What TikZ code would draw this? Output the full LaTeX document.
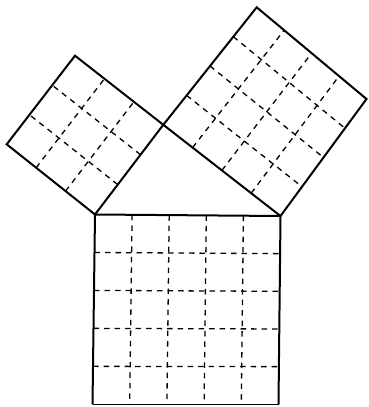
\documentclass[tikz,border=0pt]{standalone}
\usetikzlibrary{calc}
\tikzset{
  edge/.style={line width=2pt, line join=miter},
  gridline/.style={line width=1.3pt, dash pattern=on 5.5pt off 5pt},
}
\newcommand{\mygrid}[5]{%
  \pgfmathtruncatemacro\nm{#5-1}%
  \foreach \i in {1,...,\nm}{%
    \draw[gridline] ($(#1)!\i/#5!(#2)$) -- ($(#4)!\i/#5!(#3)$);
    \draw[gridline] ($(#1)!\i/#5!(#4)$) -- ($(#2)!\i/#5!(#3)$);
  }}
\begin{document}
\begin{tikzpicture}[x=1pt,y=-1pt]
\useasboundingbox (0,0) rectangle (368,407);
% triangle vertices
\coordinate (A) at (95,214.5);
\coordinate (B) at (280.5,216);
\coordinate (C) at (163.3,124.8);
% left square
\coordinate (LT) at (75,55.7);
\coordinate (LL) at (6.7,144.3);
% right square
\coordinate (RT) at (256.7,7.3);
\coordinate (RR) at (366.5,99);
% bottom square
\coordinate (BR) at (278.5,404.3);
\coordinate (BL) at (92.5,404.3);
% grids
\mygrid{A}{C}{LT}{LL}{3}
\mygrid{C}{RT}{RR}{B}{4}
\mygrid{A}{B}{BR}{BL}{5}
% outlines
\draw[edge] (A) -- (C) -- (LT) -- (LL) -- cycle;
\draw[edge] (C) -- (RT) -- (RR) -- (B) -- cycle;
\draw[edge] (A) -- (B) -- (BR);
\draw[edge] (A) -- (BL);
\draw[line width=1pt] (BL) -- (BR);
\end{tikzpicture}
\end{document}
